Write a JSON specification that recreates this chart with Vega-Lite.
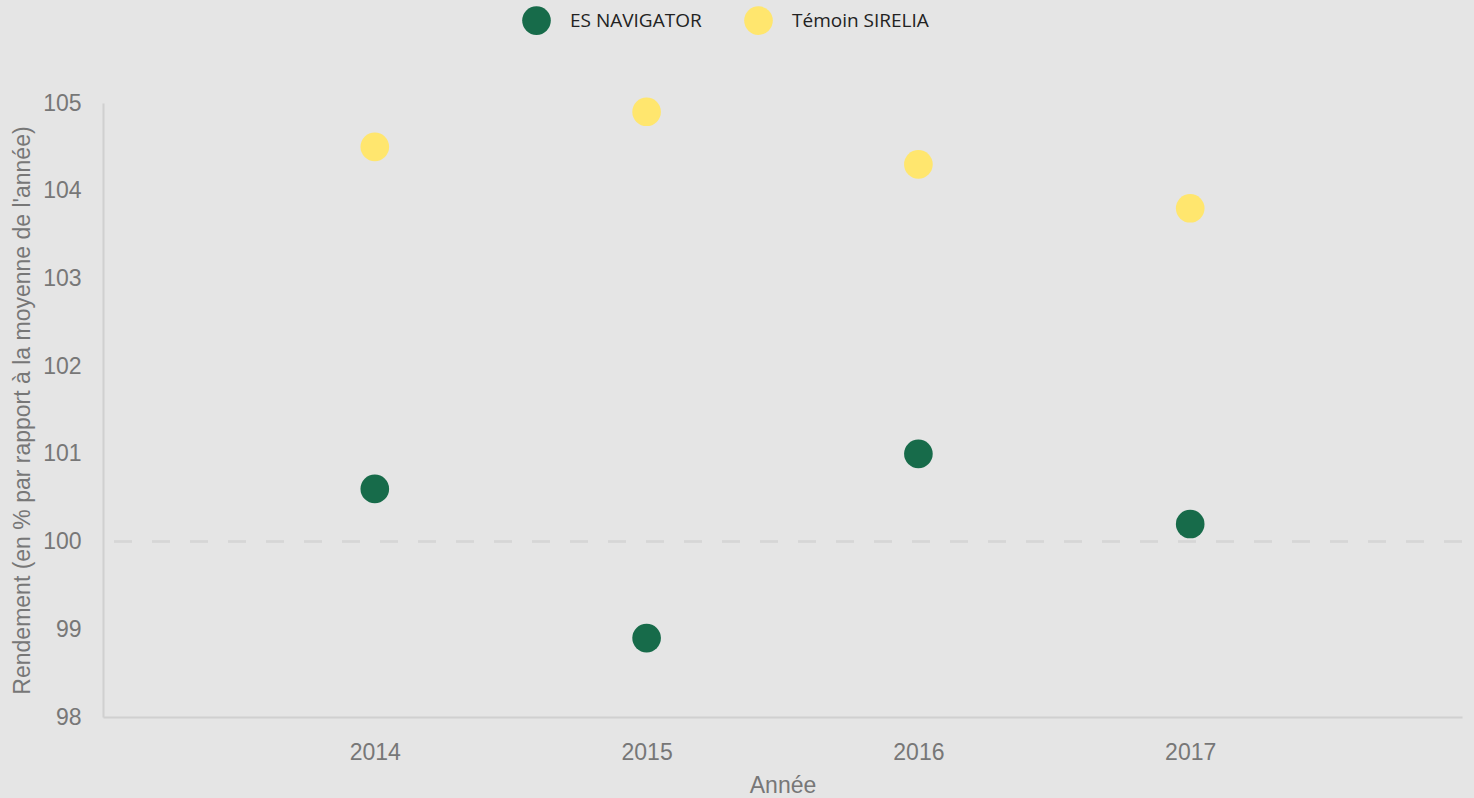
{
  "$schema": "https://vega.github.io/schema/vega-lite/v6.json",
  "width": 1359,
  "height": 614,
  "autosize": {"type": "none"},
  "padding": {"left": 103, "top": 103, "right": 12, "bottom": 81},
  "background": "#e5e5e5",
  "config": {
    "view": {"stroke": null},
    "axis": {"labelFont": "Liberation Sans", "titleFont": "Liberation Sans", "labelColor": "#777777", "titleColor": "#777777", "labelFontSize": 23, "titleFontSize": 23, "titleFontWeight": "normal", "grid": false, "ticks": false, "domainColor": "#d0d0d0", "domainWidth": 2}
  },
  "data": {
    "values": [
      {"annee": 2014, "serie": "ES NAVIGATOR", "rendement": 100.6},
      {"annee": 2015, "serie": "ES NAVIGATOR", "rendement": 98.9},
      {"annee": 2016, "serie": "ES NAVIGATOR", "rendement": 101.0},
      {"annee": 2017, "serie": "ES NAVIGATOR", "rendement": 100.2},
      {"annee": 2014, "serie": "Témoin SIRELIA", "rendement": 104.5},
      {"annee": 2015, "serie": "Témoin SIRELIA", "rendement": 104.9},
      {"annee": 2016, "serie": "Témoin SIRELIA", "rendement": 104.3},
      {"annee": 2017, "serie": "Témoin SIRELIA", "rendement": 103.8}
    ]
  },
  "layer": [
    {
      "mark": {"type": "rule", "color": "#d6d6d6", "strokeWidth": 1.5, "strokeDash": [18, 20]},
      "encoding": {"y": {"datum": 100, "type": "quantitative"}}
    },
    {
      "mark": {"type": "point", "filled": true, "opacity": 1, "size": 820},
      "encoding": {
        "x": {
          "field": "annee", "type": "quantitative", "title": "Année",
          "scale": {"domain": [2013, 2018], "nice": false, "zero": false},
          "axis": {"values": [2014, 2015, 2016, 2017], "format": "d", "labelPadding": 24, "titlePadding": 10, "domain": true}
        },
        "y": {
          "field": "rendement", "type": "quantitative",
          "title": "Rendement (en % par rapport à la moyenne de l'année)",
          "scale": {"domain": [98, 105], "nice": false, "zero": false},
          "axis": {"values": [98, 99, 100, 101, 102, 103, 104, 105], "format": "d", "labelPadding": 22, "titlePadding": 8}
        },
        "color": {
          "field": "serie", "type": "nominal",
          "scale": {"domain": ["ES NAVIGATOR", "Témoin SIRELIA"], "range": ["#176b4a", "#ffe66e"]},
          "legend": {
            "title": null, "orient": "none", "direction": "horizontal",
            "legendX": 419, "legendY": -97,
            "symbolSize": 820, "symbolType": "circle", "symbolStrokeWidth": 0,
            "labelFont": "Open Sans", "labelFontSize": 19, "labelColor": "#222222",
            "labelOffset": 19, "columnPadding": 42
          }
        }
      }
    }
  ]
}
